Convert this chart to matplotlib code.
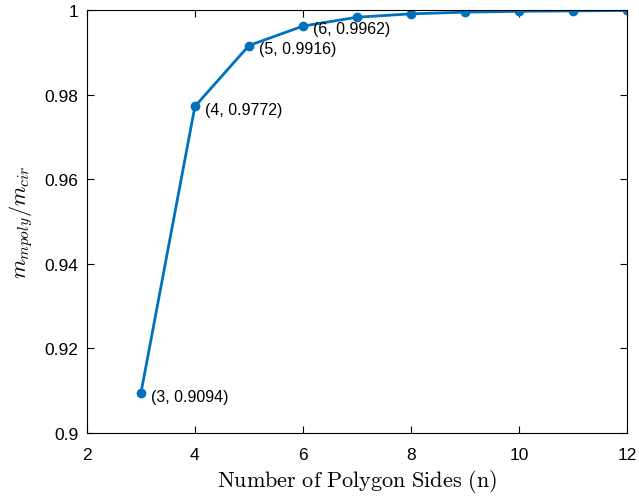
import numpy as np
import matplotlib.pyplot as plt
from matplotlib.ticker import FuncFormatter

# mass ratio of inscribed polygon to circle vs number of sides
n_sides = [3, 4, 5, 6, 7, 8, 9, 10, 11, 12]
ratio = [0.9094, 0.9772, 0.9916, 0.9962, 0.9983, 0.9991, 0.9995, 0.9997, 0.9998, 0.9999]
labeled = [3, 4, 5, 6]

plt.rcParams['font.family'] = ['Liberation Sans', 'DejaVu Sans']
plt.rcParams['mathtext.fontset'] = 'cm'

fig = plt.figure(figsize=(6.39, 5.02), dpi=100)
ax = fig.add_axes([0.136, 0.1355, 0.845, 0.8425])

ax.plot(n_sides, ratio, color='#0072BD', linewidth=2, marker='o', markersize=6)

for n, r in zip(n_sides, ratio):
    if n in labeled:
        ax.annotate('(%d, %.4f)' % (n, r), xy=(n, r), xytext=(7, -2),
                    textcoords='offset points', fontsize=11.5, va='center', ha='left')

ax.set_xlim(2, 12)
ax.set_ylim(0.9, 1)
ax.set_xticks(np.arange(2, 13, 2))
ax.set_yticks(np.arange(0.9, 1.001, 0.02))
ax.yaxis.set_major_formatter(FuncFormatter(lambda v, p: '%g' % round(v, 2)))
ax.tick_params(direction='in', length=5, width=0.8, labelsize=12.5, top=True, right=True,
               labeltop=False, labelright=False, pad=6)
ax.tick_params(axis='x', pad=10)
for s in ax.spines.values():
    s.set_linewidth(0.8)

ax.set_xlabel(r'$\mathrm{Number\ of\ Polygon\ Sides\ (n)}$', fontsize=16, labelpad=4)
ax.set_ylabel(r'$m_{mpoly}/m_{cir}$', fontsize=16, labelpad=7)

fig.savefig('out.png', dpi=100)
